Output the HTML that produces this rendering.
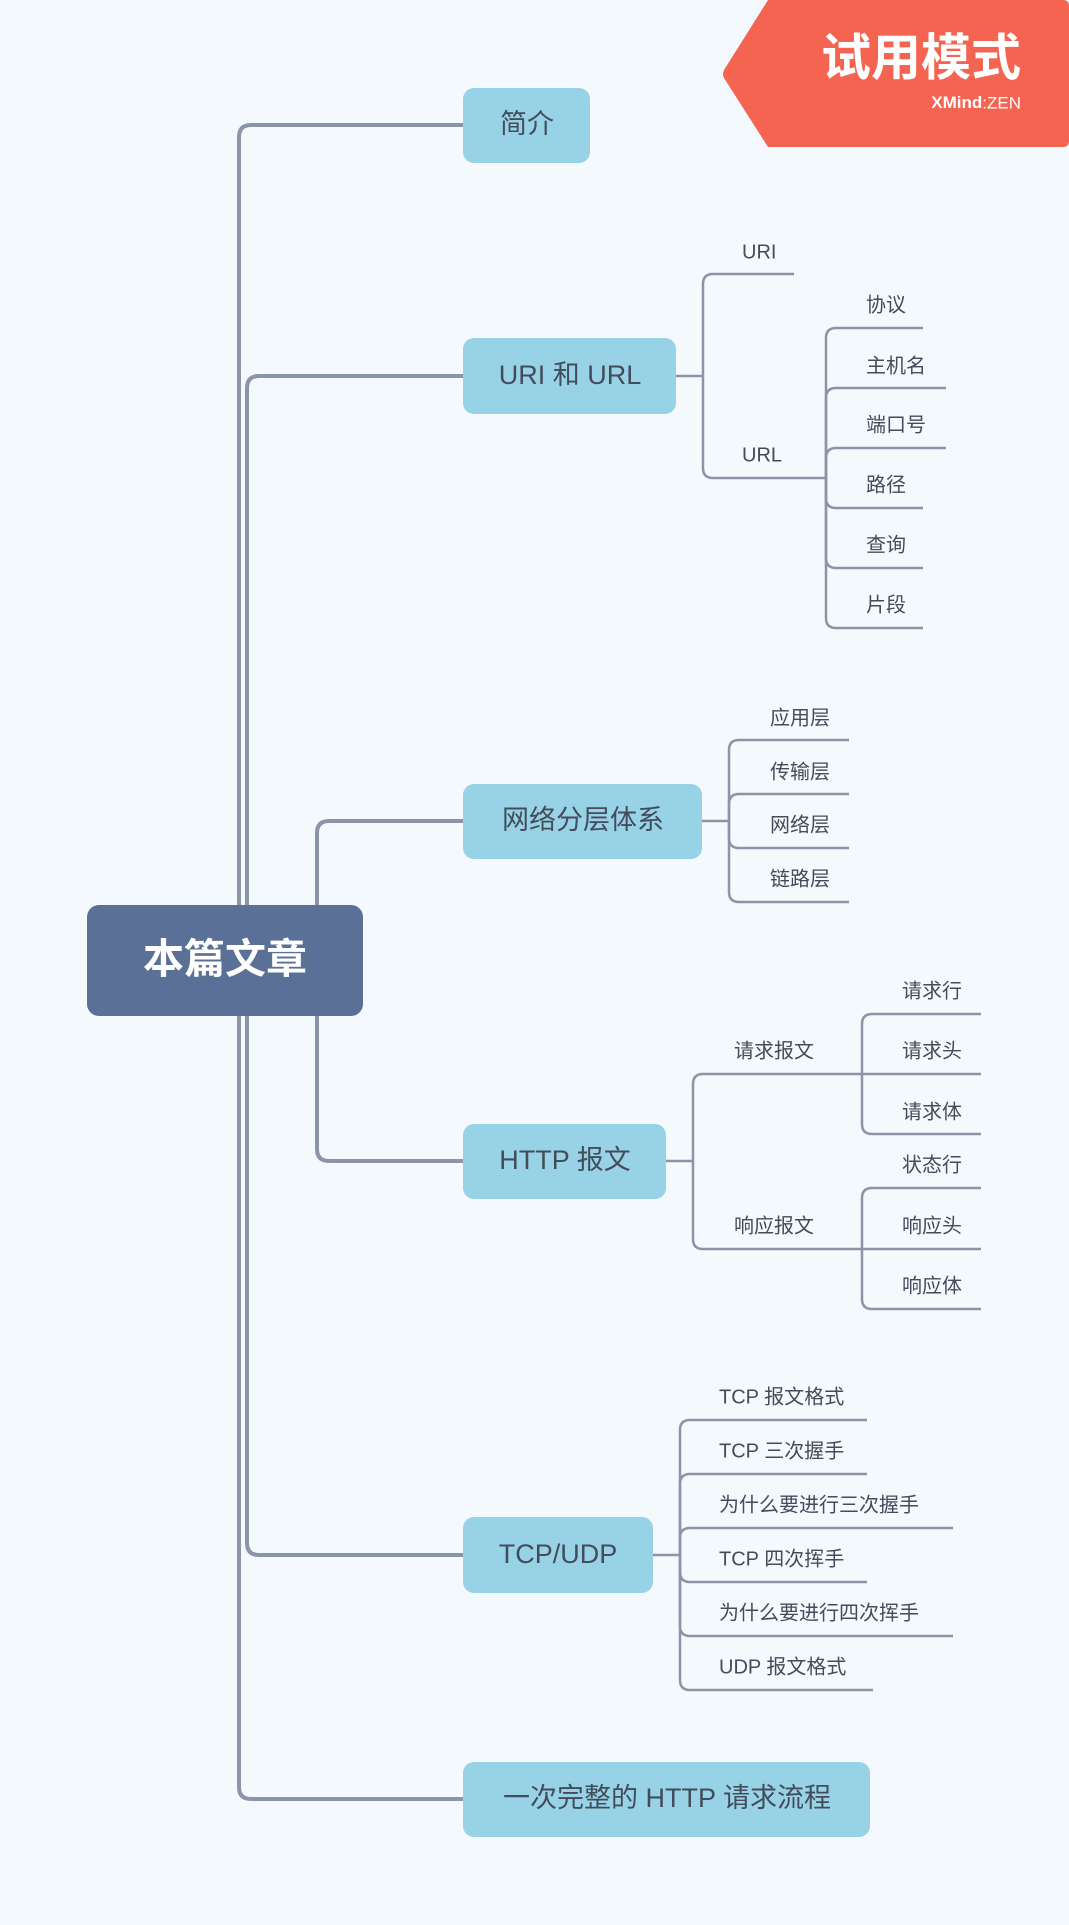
<!DOCTYPE html>
<html><head><meta charset="utf-8"><style>
html,body{margin:0;padding:0;background:#f4f9fd;}
svg{display:block}
text{font-family:"Liberation Sans","Noto Sans CJK SC",sans-serif;fill:#434c5a;}
</style></head><body>
<svg width="1069" height="1925" viewBox="0 0 1069 1925" xmlns="http://www.w3.org/2000/svg">
<rect width="1069" height="1925" fill="#f4f9fd"/>
<!-- badge -->
<path d="M768 0 H1063 Q1069 0 1069 6 V141 Q1069 147 1063 147 H768 L724 78 Q722 74 724 70 Z" fill="#f46451"/>
<text x="1021" y="62" font-size="50" font-weight="bold" text-anchor="end" dominant-baseline="middle" style="fill:#fff">试用模式</text>
<text x="1021" y="104" font-size="17" text-anchor="end" dominant-baseline="middle" style="fill:#fff"><tspan font-weight="bold">XMind</tspan>:ZEN</text>

<g fill="none" stroke="#8a95a8" stroke-width="4">
<path d="M463 125 H251 Q239 125 239 137 V1787 Q239 1799 251 1799 H463"/>
<path d="M463 376 H259 Q247 376 247 388 V1543 Q247 1555 259 1555 H463"/>
<path d="M463 821 H329 Q317 821 317 833 V1149 Q317 1161 329 1161 H463"/>
</g>
<g fill="none" stroke="#8a95a8" stroke-width="2.5">
<!-- URI -->
<path d="M676 376 H703"/>
<path d="M703 376 V284 Q703 274 713 274 H794"/>
<path d="M703 376 V468 Q703 478 713 478 H826"/>
<path d="M826 478 V338 Q826 328 836 328 H923"/>
<path d="M826 478 V398 Q826 388 836 388 H946"/>
<path d="M826 478 V458 Q826 448 836 448 H946"/>
<path d="M826 478 V498 Q826 508 836 508 H923"/>
<path d="M826 478 V558 Q826 568 836 568 H923"/>
<path d="M826 478 V618 Q826 628 836 628 H923"/>
<!-- network -->
<path d="M702 821 H729"/>
<path d="M729 821 V750 Q729 740 739 740 H849"/>
<path d="M729 821 V804 Q729 794 739 794 H849"/>
<path d="M729 821 V838 Q729 848 739 848 H849"/>
<path d="M729 821 V892 Q729 902 739 902 H849"/>
<!-- http -->
<path d="M666 1161 H693"/>
<path d="M693 1161 V1084 Q693 1074 703 1074 H862"/>
<path d="M693 1161 V1239 Q693 1249 703 1249 H862"/>
<path d="M862 1074 V1024 Q862 1014 872 1014 H981"/>
<path d="M862 1074 H981"/>
<path d="M862 1074 V1124 Q862 1134 872 1134 H981"/>
<path d="M862 1249 V1198 Q862 1188 872 1188 H981"/>
<path d="M862 1249 H981"/>
<path d="M862 1249 V1299 Q862 1309 872 1309 H981"/>
<!-- tcp -->
<path d="M653 1555 H680"/>
<path d="M680 1555 V1430 Q680 1420 690 1420 H867"/>
<path d="M680 1555 V1484 Q680 1474 690 1474 H867"/>
<path d="M680 1555 V1538 Q680 1528 690 1528 H953"/>
<path d="M680 1555 V1572 Q680 1582 690 1582 H867"/>
<path d="M680 1555 V1626 Q680 1636 690 1636 H953"/>
<path d="M680 1555 V1680 Q680 1690 690 1690 H873"/>
</g>

<!-- root -->
<rect x="87" y="905" width="276" height="111" rx="12" fill="#5a7097"/>
<text x="225" y="962" font-size="41" font-weight="bold" text-anchor="middle" dominant-baseline="middle" style="fill:#fff">本篇文章</text>

<!-- main nodes -->
<g fill="#98d2e7">
<rect x="463" y="88" width="127" height="75" rx="11"/>
<rect x="463" y="338" width="213" height="76" rx="11"/>
<rect x="463" y="784" width="239" height="75" rx="11"/>
<rect x="463" y="1124" width="203" height="75" rx="11"/>
<rect x="463" y="1517" width="190" height="76" rx="11"/>
<rect x="463" y="1762" width="407" height="75" rx="11"/>
</g>
<g font-size="27" text-anchor="middle" dominant-baseline="middle">
<text x="527" y="126">简介</text>
<text x="570" y="377">URI 和 URL</text>
<text x="583" y="822">网络分层体系</text>
<text x="565" y="1162">HTTP 报文</text>
<text x="558" y="1556">TCP/UDP</text>
<text x="667" y="1800">一次完整的 HTTP 请求流程</text>
</g>

<g font-size="20" dominant-baseline="middle">
<text x="742" y="253">URI</text>
<text x="742" y="456">URL</text>
<text x="866" y="306">协议</text>
<text x="866" y="367">主机名</text>
<text x="866" y="426">端口号</text>
<text x="866" y="486">路径</text>
<text x="866" y="546">查询</text>
<text x="866" y="606">片段</text>
<text x="770" y="719">应用层</text>
<text x="770" y="773">传输层</text>
<text x="770" y="826">网络层</text>
<text x="770" y="880">链路层</text>
<text x="734" y="1052">请求报文</text>
<text x="734" y="1227">响应报文</text>
<text x="902" y="992">请求行</text>
<text x="902" y="1052">请求头</text>
<text x="902" y="1113">请求体</text>
<text x="902" y="1166">状态行</text>
<text x="902" y="1227">响应头</text>
<text x="902" y="1287">响应体</text>
<text x="719" y="1398">TCP 报文格式</text>
<text x="719" y="1452">TCP 三次握手</text>
<text x="719" y="1506">为什么要进行三次握手</text>
<text x="719" y="1560">TCP 四次挥手</text>
<text x="719" y="1614">为什么要进行四次挥手</text>
<text x="719" y="1668">UDP 报文格式</text>
</g>
</svg>
</body></html>
